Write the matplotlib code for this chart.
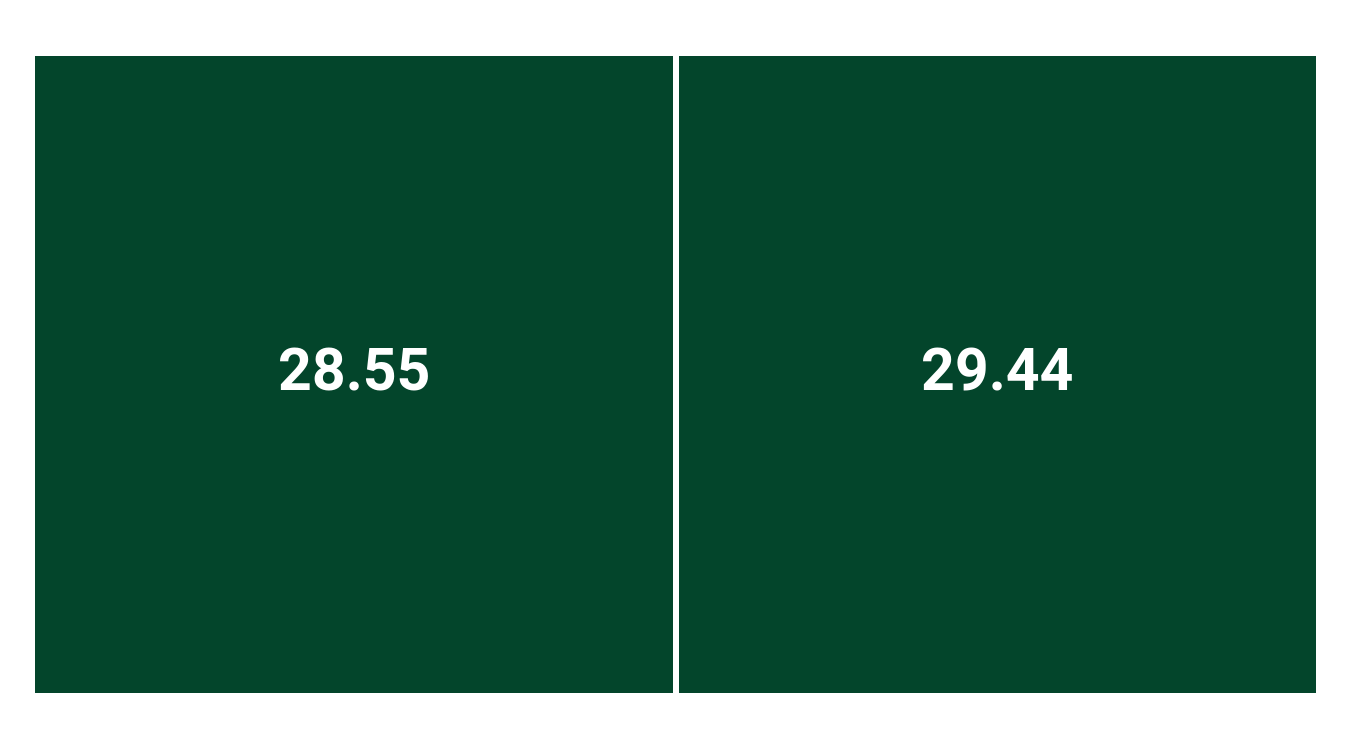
import matplotlib
matplotlib.use("Agg")
import matplotlib.pyplot as plt
import numpy as np
from matplotlib.colors import ListedColormap

categories = ["A", "B"]
values = [28.55, 29.44]

fig = plt.figure(figsize=(13.5, 7.5), dpi=100)
W, H = 1350, 750
left, right, top, bottom = 32, 1319, 53, 696
ax = fig.add_axes([left / W, 1 - bottom / H, (right - left) / W, (bottom - top) / H])

data = np.array([values])
cmap = ListedColormap(["#03452B"])
ax.pcolormesh(data, cmap=cmap, edgecolors="white", linewidth=4.3)
for i, v in enumerate(values):
    ax.text(i + 0.5, 0.5, f"{v:.2f}", ha="center", va="center", color="white",
            fontsize=42.5, fontweight="bold", family=["Roboto", "DejaVu Sans"])
ax.set_xlim(0, len(values))
ax.set_ylim(0, 1)
ax.axis("off")
fig.savefig("out.png", dpi=100, facecolor="white")
